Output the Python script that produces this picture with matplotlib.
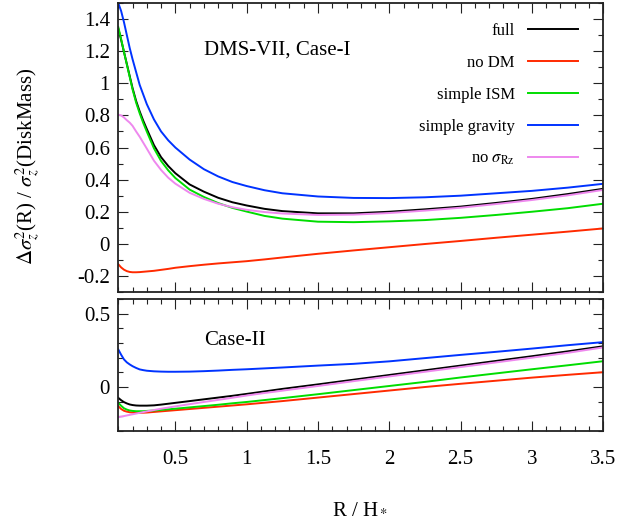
import numpy as np
import matplotlib
matplotlib.use("Agg")
import matplotlib.pyplot as plt
from matplotlib.ticker import MultipleLocator

plt.rcParams['font.family'] = ['Liberation Serif', 'DejaVu Serif']
plt.rcParams['mathtext.fontset'] = 'stix'

# R / H*
R = [0.1, 0.12, 0.14, 0.16, 0.18, 0.2, 0.225, 0.25, 0.275, 0.3, 0.35, 0.4, 0.45, 0.5,
     0.6, 0.7, 0.8, 0.9, 1.0, 1.125, 1.25, 1.5, 1.75, 2.0, 2.25, 2.5, 2.75, 3.0, 3.25, 3.5]

labels = ['full', 'no DM', 'simple ISM', 'simple gravity', r'no $\sigma_{\rm Rz}$']
colors = ['black', '#ff2a00', '#00dd00', '#0033ff', '#ee88ee']

# Case-I (top panel)
full_1 = [1.34, 1.27, 1.195, 1.12, 1.045, 0.97, 0.89, 0.825, 0.767, 0.715, 0.615, 0.54, 0.485, 0.44,
          0.37, 0.325, 0.287, 0.259, 0.239, 0.218, 0.204, 0.19, 0.19, 0.20, 0.215, 0.232, 0.255, 0.28,
          0.31, 0.343]
nodm_1 = [-0.127, -0.147, -0.161, -0.17, -0.175, -0.177, -0.177, -0.176, -0.174, -0.172, -0.168, -0.162,
          -0.156, -0.149, -0.139, -0.13, -0.122, -0.115, -0.108, -0.097, -0.085, -0.062, -0.041, -0.021,
          -0.001, 0.018, 0.038, 0.057, 0.076, 0.096]
ism_1 = [1.35, 1.275, 1.195, 1.117, 1.04, 0.962, 0.88, 0.813, 0.753, 0.699, 0.595, 0.516, 0.458, 0.41,
         0.338, 0.292, 0.254, 0.224, 0.201, 0.174, 0.157, 0.138, 0.135, 0.14, 0.148, 0.162, 0.18, 0.20,
         0.222, 0.25]
grav_1 = [1.50, 1.45, 1.38, 1.30, 1.22, 1.15, 1.07, 0.99, 0.93, 0.87, 0.775, 0.70, 0.645, 0.60,
          0.525, 0.465, 0.42, 0.385, 0.36, 0.334, 0.315, 0.295, 0.286, 0.285, 0.29, 0.30, 0.315, 0.33,
          0.35, 0.374]
norz_1 = [0.805, 0.80, 0.787, 0.77, 0.755, 0.735, 0.70, 0.667, 0.63, 0.593, 0.518, 0.46, 0.412, 0.375,
          0.318, 0.28, 0.25, 0.228, 0.212, 0.198, 0.189, 0.18, 0.182, 0.192, 0.207, 0.225, 0.248, 0.273,
          0.302, 0.336]

# Case-II (bottom panel)
full_2 = [-0.074, -0.09, -0.103, -0.112, -0.119, -0.123, -0.126, -0.127, -0.127, -0.127, -0.125, -0.12,
          -0.114, -0.108, -0.096, -0.084, -0.072, -0.06, -0.047, -0.03, -0.013, 0.018, 0.05, 0.082, 0.114,
          0.146, 0.178, 0.21, 0.243, 0.278]
nodm_2 = [-0.131, -0.15, -0.162, -0.168, -0.172, -0.174, -0.176, -0.176, -0.175, -0.174, -0.17, -0.166,
          -0.162, -0.158, -0.15, -0.142, -0.134, -0.126, -0.118, -0.107, -0.096, -0.072, -0.048, -0.024,
          0.0, 0.022, 0.043, 0.064, 0.083, 0.101]
ism_2 = [-0.108, -0.128, -0.145, -0.154, -0.16, -0.163, -0.165, -0.165, -0.165, -0.163, -0.16, -0.156,
         -0.152, -0.148, -0.139, -0.13, -0.121, -0.111, -0.102, -0.089, -0.076, -0.049, -0.021, 0.007,
         0.035, 0.065, 0.093, 0.121, 0.148, 0.176]
grav_2 = [0.256, 0.22, 0.188, 0.168, 0.154, 0.142, 0.13, 0.12, 0.115, 0.111, 0.107, 0.105, 0.104, 0.104,
          0.105, 0.108, 0.112, 0.117, 0.121, 0.127, 0.133, 0.146, 0.158, 0.175, 0.197, 0.219, 0.24, 0.262,
          0.285, 0.306]
norz_2 = [-0.206, -0.202, -0.198, -0.194, -0.19, -0.186, -0.181, -0.176, -0.171, -0.166, -0.157, -0.148,
          -0.14, -0.132, -0.117, -0.102, -0.088, -0.073, -0.058, -0.041, -0.025, 0.007, 0.04, 0.072, 0.104,
          0.136, 0.168, 0.2, 0.233, 0.27]

fig = plt.figure(figsize=(6.38, 5.22), dpi=100)
ax1 = fig.add_axes([0.1854, 0.4406, 0.7602, 0.5536])
ax2 = fig.add_axes([0.1854, 0.1743, 0.7602, 0.2529])

for ax, series in ((ax1, [full_1, nodm_1, ism_1, grav_1, norz_1]),
                   (ax2, [full_2, nodm_2, ism_2, grav_2, norz_2])):
    for y, c, lab in zip(series, colors, labels):
        ax.plot(R, y, color=c, lw=1.4, label=lab)
    ax.set_xlim(0.1, 3.5)
    ax.xaxis.set_major_locator(MultipleLocator(0.5))
    ax.xaxis.set_minor_locator(MultipleLocator(0.1))
    ax.yaxis.set_minor_locator(MultipleLocator(0.1))
    ax.tick_params(which='both', direction='in', top=True, right=True,
                   labelsize=15, width=0.8, color='#222222')
    ax.tick_params(which='major', length=7.5)
    ax.tick_params(which='minor', length=3.7)
    ax.tick_params(axis='y', pad=6)
    ax.tick_params(axis='x', pad=14)
    for s in ax.spines.values():
        s.set_linewidth(1.3)
        s.set_color('#222222')

ax1.set_ylim(-0.3, 1.5)
ax1.set_yticks([-0.2, 0, 0.2, 0.4, 0.6, 0.8, 1.0, 1.2, 1.4])
ax1.set_yticklabels(['-0.2', '0', '0.2', '0.4', '0.6', '0.8', '1', '1.2', '1.4'])
ax1.tick_params(labelbottom=False)

ax2.set_ylim(-0.3, 0.6)
ax2.set_yticks([0, 0.5])
ax2.set_yticklabels(['0', '0.5'])
ax2.set_xticks([0.5, 1, 1.5, 2, 2.5, 3, 3.5])
ax2.set_xticklabels(['0.5', '1', '1.5', '2', '2.5', '3', '3.5'])

ax1.text(0.70, 1.21, 'DMS-VII, Case-I', fontsize=15, ha='left', va='center')
ax2.text(0.70, 0.32, 'Case-II', fontsize=15, ha='left', va='center')

ax1.legend(loc='upper right', bbox_to_anchor=(0.948, 0.93), frameon=False,
           markerfirst=False, fontsize=12, handlelength=3.0, handletextpad=0.8,
           labelspacing=0.95, borderpad=0, borderaxespad=0)

fig.text(0.043, 0.681, r'$\Delta\sigma_z^2$(R) / $\sigma_z^2$(DiskMass)',
         rotation=90, ha='center', va='center', fontsize=15)
fig.text(0.565, 0.023, r'R / H$_*$', ha='center', va='center', fontsize=15)

fig.savefig('out.png', dpi=100)
